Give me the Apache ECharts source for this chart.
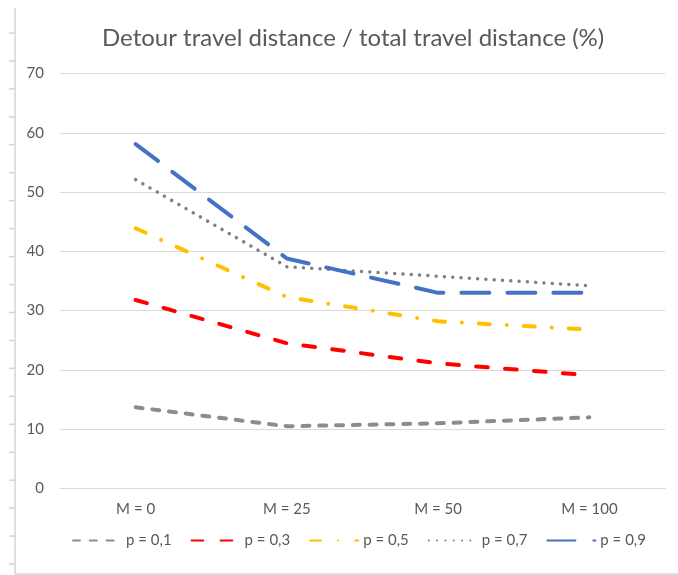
<!DOCTYPE html>
<html>
<head>
<meta charset="utf-8">
<script src="https://cdn.jsdelivr.net/npm/echarts@6/dist/echarts.min.js"></script>
<style>
html,body{margin:0;padding:0;background:#fff;}
#chart{width:678px;height:575px;}
</style>
</head>
<body>
<div id="chart"></div>
<script>
var titleText = 'Detour travel distance / total travel distance (%)';
var categories = ['M = 0', 'M = 25', 'M = 50', 'M = 100'];
var yTicks = [0, 10, 20, 30, 40, 50, 60, 70];
var seriesNames = ['p = 0,1', 'p = 0,3', 'p = 0,5', 'p = 0,7', 'p = 0,9'];
var p01 = [13.7, 10.5, 11.0, 12.0];
var p03 = [31.8, 24.5, 21.1, 19.1];
var p05 = [43.9, 32.3, 28.2, 26.8];
var p07 = [52.1, 37.4, 35.8, 34.2];
var p09 = [58.1, 38.8, 33.0, 33.0];

var FONT = 'Lato, "Liberation Sans", sans-serif';
var TXT = '#595959';
var GRID = '#d9d9d9';

var styles = [
  {color: '#8c8c8c', width: 4, dash: [7, 9.8]},
  {color: '#ff0000', width: 4, dash: [11.7, 17.3]},
  {color: '#ffc000', width: 4, dash: [11, 17, 0.01, 17]},
  {color: '#808080', width: 3.5, dash: [0.01, 8.3]},
  {color: '#4472c4', width: 4, dash: [28, 18]}
];
var values = [p01, p03, p05, p07, p09];

var series = seriesNames.map(function (n, i) {
  var s = styles[i];
  return {
    name: n,
    type: 'line',
    data: values[i],
    symbol: 'none',
    smooth: false,
    z: 2 + i,
    lineStyle: {color: s.color, width: s.width, type: s.dash, cap: 'round', join: 'round'},
    itemStyle: {color: s.color}
  };
});

// decorative frame (left ruler and bottom border)
var deco = [];
deco.push({type: 'line', shape: {x1: 15, y1: 8, x2: 15, y2: 574}, style: {stroke: '#d4d4d4', lineWidth: 1.5}, silent: true});
deco.push({type: 'line', shape: {x1: 15, y1: 574, x2: 678, y2: 574}, style: {stroke: '#d4d4d4', lineWidth: 1.5}, silent: true});
for (var k = 0; k < 20; k++) {
  var ty = 33 + k * 27.95;
  deco.push({type: 'line', shape: {x1: 9, y1: ty, x2: 15, y2: ty}, style: {stroke: '#d4d4d4', lineWidth: 1.5}, silent: true});
}

var chart = echarts.init(document.getElementById('chart'), null, {renderer: 'canvas'});
chart.setOption({
  backgroundColor: '#ffffff',
  animation: false,
  title: {
    text: titleText,
    left: 97,
    top: 21,
    textStyle: {fontFamily: FONT, fontSize: 24, fontWeight: 'normal', color: TXT}
  },
  grid: {left: 60, right: 13, top: 73.5, bottom: 86.5, containLabel: false},
  legend: {
    left: 67,
    top: 528,
    itemWidth: 48,
    itemHeight: 14,
    itemGap: 19,
    data: seriesNames,
    itemStyle: {opacity: 0},
    textStyle: {fontFamily: FONT, fontSize: 15, color: TXT}
  },
  xAxis: {
    type: 'category',
    data: categories,
    boundaryGap: true,
    axisLine: {show: true, lineStyle: {color: GRID, width: 1}},
    axisTick: {show: false},
    axisLabel: {fontFamily: FONT, fontSize: 15, color: TXT, margin: 13}
  },
  yAxis: {
    type: 'value',
    min: yTicks[0],
    max: yTicks[yTicks.length - 1],
    interval: 10,
    axisLine: {show: false},
    axisTick: {show: false},
    splitLine: {lineStyle: {color: GRID, width: 1}},
    axisLabel: {fontFamily: FONT, fontSize: 15, color: TXT, margin: 16}
  },
  graphic: deco,
  series: series
});
</script>
</body>
</html>
